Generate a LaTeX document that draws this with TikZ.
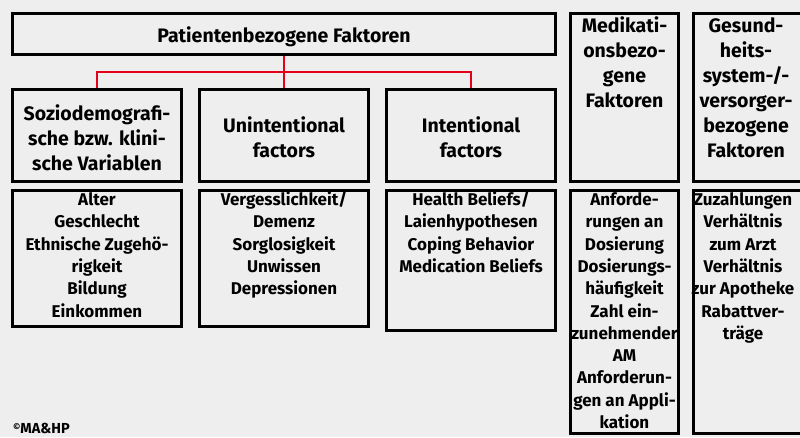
\documentclass[tikz,border=0pt]{standalone}
\usepackage{fontspec}
\setmainfont{Fira Sans}[BoldFont={Fira Sans Bold}]
\definecolor{bg}{HTML}{EDEEED}
\definecolor{lnred}{HTML}{E2001A}
\begin{document}
\begin{tikzpicture}[x=1pt,y=-1pt,
  box/.style={draw=black,line width=2.6pt,inner sep=0pt,rectangle},
  hdr/.style={align=center,inner sep=0pt,anchor=base,font=\bfseries\fontsize{19.5}{25}\selectfont},
  lst/.style={align=center,inner sep=0pt,anchor=base,font=\bfseries\fontsize{17}{22.3}\selectfont},
  conn/.style={draw=lnred,line width=2pt}]
\fill[bg] (0,0) rectangle (800,437);
\useasboundingbox (0,0) rectangle (800,437);
\begin{scope}
\clip (0,0) rectangle (800,437);
% boxes
\node[box,minimum width=543.4pt,minimum height=41.4pt] (title) at (284,34) {};
\node[box,minimum width=169.4pt,minimum height=92.4pt] (b1) at (97,135.5) {};
\node[box,minimum width=169.4pt,minimum height=92.4pt] (b2) at (284,135.5) {};
\node[box,minimum width=169.4pt,minimum height=92.4pt] (b3) at (471,135.5) {};
\node[box,minimum width=108.4pt,minimum height=168.4pt] (med) at (624.5,97.5) {};
\node[box,minimum width=108.4pt,minimum height=168.4pt] (ges) at (747.5,97.5) {};
\node[box,minimum width=169.4pt,minimum height=136.4pt] (l1) at (97,258.5) {};
\node[box,minimum width=169.4pt,minimum height=136.4pt] (l2) at (284,258.5) {};
\node[box,minimum width=169.4pt,minimum height=140.4pt] (l3) at (471,260.5) {};
\node[box,minimum width=108.4pt,minimum height=243.4pt] (lmed) at (624.5,312) {};
\node[box,minimum width=108.4pt,minimum height=243.4pt] (lges) at (747.5,312) {};
% connectors
\coordinate (j) at (284,72);
\draw[conn] (title.south) -- (b2.north);
\draw[conn] (b1.north) |- (j) -| (b3.north);
% header texts (anchor = baseline of last line)
\node[hdr] (ttitle) at (284,42.5) {Patientenbezogene Faktoren};
\node[hdr] (tb1) at (97,170) {Soziodemografi-\\sche bzw. klini-\\sche Variablen};
\node[hdr] (tb2) at (284,157) {Unintentional\\factors};
\node[hdr] (tb3) at (471,157) {Intentional\\factors};
\node[hdr] (tmed) at (624.5,107) {Medikati-\\onsbezo-\\gene\\Faktoren};
\node[hdr] (tges) at (746,157) {Gesund-\\heits-\\system-/-\\versorger-\\bezogene\\Faktoren};
% list texts
\node[lst] (tl1) at (97,317) {Alter\\Geschlecht\\Ethnische Zugehö-\\rigkeit\\Bildung\\Einkommen};
\node[lst] (tl2) at (284,294.7) {Vergesslichkeit/\\Demenz\\Sorglosigkeit\\Unwissen\\Depressionen};
\node[lst] (tl3) at (471,272.4) {Health Beliefs/\\Laienhypothesen\\Coping Behavior\\Medication Beliefs};
\node[lst] (tlmed) at (624.5,428.5) {Anforde-\\rungen an\\Dosierung\\Dosierungs-\\häufigkeit\\Zahl ein-\\zunehmender\\AM\\Anforderun-\\gen an Appli-\\kation};
\node[lst] (tlges) at (743,339.3) {Zuzahlungen\\Verhältnis\\zum Arzt\\Verhältnis\\zur Apotheke\\Rabattver-\\träge};
\end{scope}
\node[anchor=base west,inner sep=0pt,font=\bfseries\fontsize{14.5}{16}\selectfont] (copy) at (13,433) {\raisebox{3pt}{\fontsize{9}{10}\selectfont ©}MA\&HP};
\end{tikzpicture}
\end{document}
